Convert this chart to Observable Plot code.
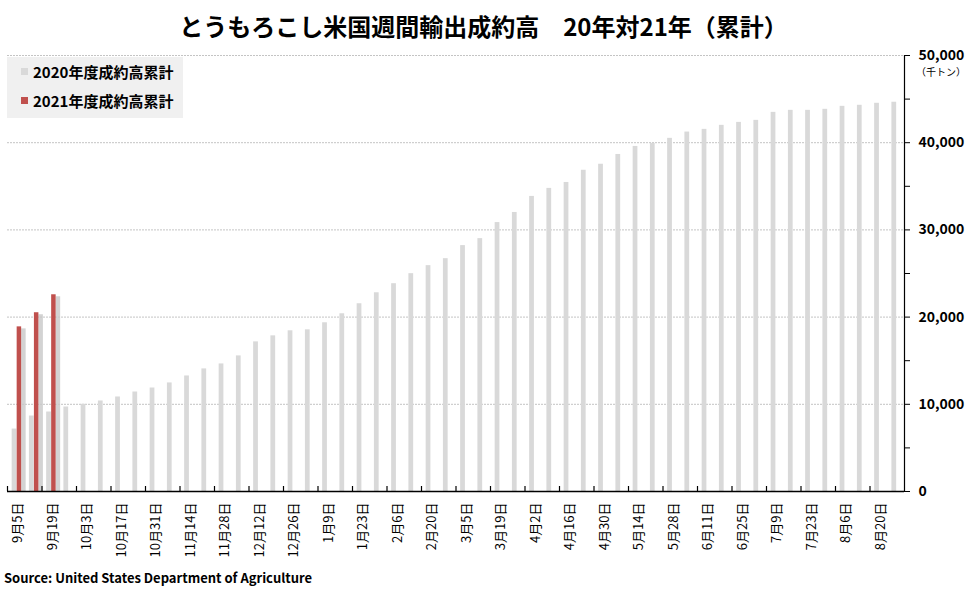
<!DOCTYPE html>
<html><head><meta charset="utf-8">
<script src="https://cdn.jsdelivr.net/npm/d3@7"></script>
<script src="https://cdn.jsdelivr.net/npm/@observablehq/plot@0.6"></script>
<style>
body{margin:0;background:#fff;font-family:"Noto Sans CJK JP","Noto Sans",sans-serif;}
#wrap{position:relative;width:967px;height:590px;overflow:hidden;}
#chart{position:absolute;left:0;top:0;}
#title{position:absolute;left:0;width:967px;top:12px;text-align:center;font-size:24px;font-weight:bold;color:#000;line-height:1.2;}
#unit{position:absolute;left:916px;top:64px;font-size:10px;color:#000;}
#legend{position:absolute;left:7px;top:57px;width:176px;height:61px;background:#f0f0f0;}
.li{position:absolute;left:14px;font-size:15px;font-weight:bold;color:#000;display:flex;align-items:center;line-height:1;}
.sw{width:7px;height:7px;margin-right:5px;display:inline-block;}
#source{position:absolute;left:4px;top:568px;font-size:13px;font-weight:bold;color:#000;}
</style></head>
<body>
<div id="wrap">
  <div id="chart"></div>
  <div id="title">とうもろこし米国週間輸出成約高　20年対21年（累計）</div>
  <div id="unit">（千トン）</div>
  <div id="legend">
    <div class="li" style="top:7px"><span class="sw" id="sw0"></span><span id="lg0"></span></div>
    <div class="li" style="top:36px"><span class="sw" id="sw1"></span><span id="lg1"></span></div>
  </div>
  <div id="source">Source: United States Department of Agriculture</div>
</div>
<script>
const weeks = ["9月5日","9月12日","9月19日","9月26日","10月3日","10月10日","10月17日","10月24日","10月31日",
  "11月7日","11月14日","11月21日","11月28日","12月5日","12月12日","12月19日","12月26日",
  "1月2日","1月9日","1月16日","1月23日","1月30日","2月6日","2月13日","2月20日","2月27日",
  "3月5日","3月12日","3月19日","3月26日","4月2日","4月9日","4月16日","4月23日","4月30日",
  "5月7日","5月14日","5月21日","5月28日","6月4日","6月11日","6月18日","6月25日",
  "7月2日","7月9日","7月16日","7月23日","7月30日","8月6日","8月13日","8月20日","8月27日"];
const cumul2020 = [7160,8655,9115,9690,10000,10380,10840,11410,11870,12450,13250,14060,14630,15550,17160,17850,
  18430,18540,19350,20380,21530,22790,23830,24980,25900,26700,28200,29000,30840,32000,33840,34760,
  35440,36840,37530,38650,39570,39920,40500,41220,41530,41990,42330,42560,43480,43710,43710,43830,
  44170,44290,44520,44640];
const cumul2021 = [18880,20500,22560];
const seriesNames = ["2020年度成約高累計","2021年度成約高累計"];
const seriesColors = ["#d9d9d9","#c0504d"];
const yTicks = [0,10000,20000,30000,40000,50000];
const yMinorTicks = [5000,15000,25000,35000,45000];
const xTickLabels = weeks.filter((d,i)=>i%2===0);

const W = 967, H = 590, mL = 7, mR = 63, mT = 55, mB = 99;
const bw = (W - mL - mR) / weeks.length;

const d2020 = weeks.map((w,i)=>({week:w, value:cumul2020[i]}));
const d2021 = cumul2021.map((v,i)=>({week:weeks[i], value:v}));

const font = '"Noto Sans CJK JP","Noto Sans",sans-serif';
const chart = Plot.plot({
  width: W, height: H,
  marginLeft: mL, marginRight: mR, marginTop: mT, marginBottom: mB,
  style: {fontFamily: font, background: "transparent", color: "#000", overflow: "visible"},
  x: {type: "band", domain: weeks, padding: 0, round: false, axis: null, label: null},
  y: {domain: [0, 50000], axis: null, label: null},
  marks: [
    Plot.gridY(yTicks, {stroke: "#c4c4c4", strokeOpacity: 1, strokeDasharray: "2,1"}),
    Plot.barY(d2020, {x: "week", y: "value", fill: seriesColors[0], insetLeft: bw*0.27, insetRight: bw*0.455}),
    Plot.barY(d2021, {x: "week", y: "value", fill: "#c8c8c8", fillOpacity: 0.8, insetLeft: bw*0.56, insetRight: bw*0.18, insetTop: 2, dx: 4.5}),
    Plot.barY(d2021, {x: "week", y: "value", fill: seriesColors[1], insetLeft: bw*0.56, insetRight: bw*0.18}),
    Plot.ruleY([0], {stroke: "#000", strokeWidth: 1.5}),
    Plot.frame({anchor: "right", stroke: "#000", strokeWidth: 1.2}),
    Plot.ruleX(xTickLabels, {x: d => d, y1: 0, y2: 5 * 50000 / (H - mT - mB), dx: -bw/2, stroke: "#000", strokeWidth: 1.2}),
    Plot.axisX(xTickLabels, {anchor: "bottom", label: null, tickSize: 0, tickPadding: 11, tickRotate: -90, fontSize: 13, dx: 2}),
    Plot.axisY(yTicks, {anchor: "right", label: null, tickSize: 5, tickPadding: 9, tickFormat: d3.format(","), fontSize: 14, fontWeight: "bold"}),
    Plot.axisY(yMinorTicks, {anchor: "right", label: null, tickSize: 5, tickFormat: () => ""})
  ]
});
document.getElementById("chart").appendChild(chart);
seriesNames.forEach((n,i)=>{
  document.getElementById("lg"+i).textContent = n;
  document.getElementById("sw"+i).style.background = seriesColors[i];
});
</script>
</body></html>
